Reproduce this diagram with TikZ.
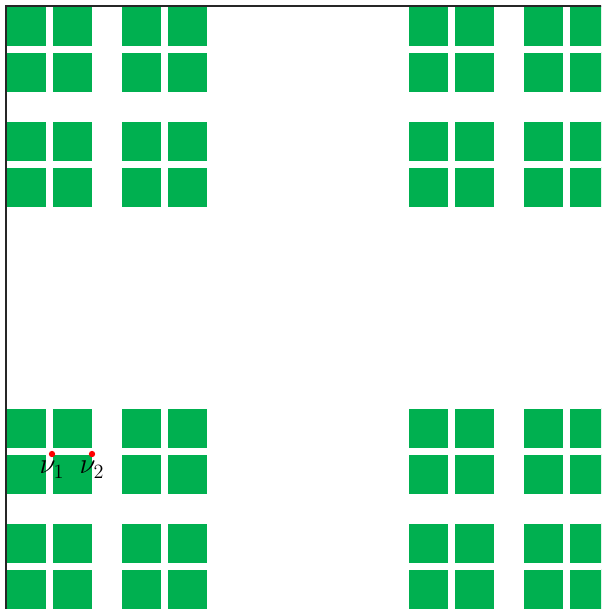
\documentclass[tikz,border=0pt]{standalone}
\usepackage{amsmath, amssymb}
\usepackage{xcolor}
\usepackage{tikz}
\usetikzlibrary{positioning,calc}
\definecolor{cellgreen}{RGB}{0,176,80}
\definecolor{dotred}{RGB}{255,0,0}
\tikzset{
  cellbox/.style ={fill=cellgreen, draw=white, line width=0.6pt},
  framebox/.style={draw=black!85, line width=1pt},
  vdot/.style    ={circle, fill=dotred, inner sep=0pt, minimum size=4.5pt},
  vlabel/.style  ={font=\huge, inner sep=5pt},
}
\begin{document}
\begin{tikzpicture}[x=0.025cm, y=-0.025cm]
  \useasboundingbox (0,0) rectangle (601,609);
  \begin{scope}
    \clip (0,0) rectangle (601,609);
    % three levels of 2x2 blocks
    \foreach \a in {0,402} \foreach \b in {0,402}
      \foreach \c in {0,115} \foreach \d in {0,115}
        \foreach \e in {0,46} \foreach \f in {0,46}
          \draw[cellbox] (6+\a+\c+\e, 6+\b+\d+\f) rectangle ++(40,40);
    \draw[framebox] (6,6) rectangle (609,610);
  \end{scope}
  \node[vdot] (v1) at (52,454) {};
  \node[vdot] (v2) at (92,454) {};
  \node[vlabel, below=0pt of v1.center] (v1lab) {$\nu_1$};
  \node[vlabel, below=0pt of v2.center] (v2lab) {$\nu_2$};
\end{tikzpicture}
\end{document}
